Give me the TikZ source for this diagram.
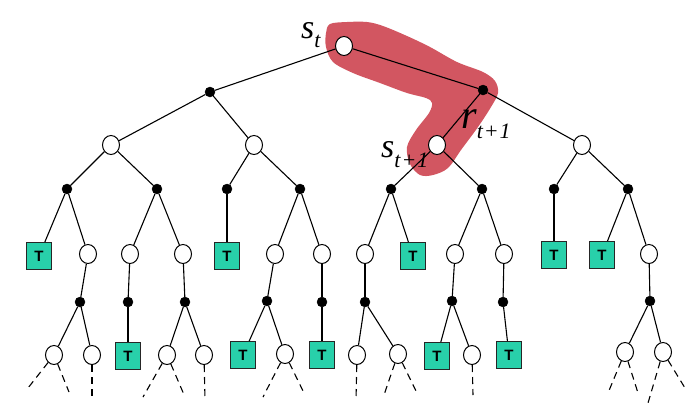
\documentclass[tikz,border=0pt]{standalone}
\usepackage{fontspec}
\setmainfont{Liberation Serif}
\newfontfamily\tfont{Liberation Sans}
\usetikzlibrary{shapes.geometric}
\definecolor{blobred}{RGB}{210,86,97}
\definecolor{termgreen}{RGB}{40,208,170}
\tikzset{
  st/.style={ellipse,draw=black,fill=white,line width=1pt,minimum width=17pt,minimum height=19pt,inner sep=0pt},
  act/.style={circle,fill=black,draw=black,minimum size=10pt,inner sep=0pt},
  term/.style={rectangle,draw=black!85,fill=termgreen,line width=0.9pt,minimum width=25pt,minimum height=27pt,inner sep=0pt,font=\tfont\bfseries\fontsize{15}{15}\selectfont},
  edge/.style={line width=1.1pt},
  cont/.style={line width=1.1pt,dash pattern=on 7pt off 5pt},
  lab/.style={anchor=base west,inner sep=0pt},
}
\newcommand{\mainsz}{\fontsize{34}{34}\selectfont\itshape}
\newcommand{\subsz}{\fontsize{22}{22}\selectfont}
\begin{document}
\begin{tikzpicture}[x=1pt,y=-1pt]
\useasboundingbox (0,0) rectangle (700,408);
% highlight blob
\fill[blobred] plot[smooth cycle,tension=0.55] coordinates {
 (330,24) (347,22) (367,22) (383,26) (407,36) (430,47) (457,62) (483,72)
 (495,81) (498,93) (491,107) (478,127) (461,150) (448,168) (433,175)
 (420,175) (410,164) (407,147) (416,130) (429,113) (432,103) (426,98)
 (407,93) (380,83) (353,73) (333,62) (326,47) (326,33)};
% level 0,1,2
\node[st] (r) at (344,46) {};
\node[act] (a1) at (210,92) {};
\node[act] (a2) at (483,90) {};
\node[st] (s1) at (111,145) {};
\node[st] (s2) at (254,145) {};
\node[st] (s3) at (437,145) {};
\node[st] (s4) at (582,145) {};
% level 3 actions
\node[act] (b1) at (67,189) {};
\node[act] (b2) at (157,189) {};
\node[act] (b3) at (227,189) {};
\node[act] (b4) at (300,189) {};
\node[act] (b5) at (391,189) {};
\node[act] (b6) at (482,189) {};
\node[act] (b7) at (554,189) {};
\node[act] (b8) at (628,189) {};
% level 3 states
\node[term] (T1) at (39,256) {T};
\node[st] (w1) at (88,254) {};
\node[st] (w2) at (130,254) {};
\node[st] (w3) at (183,254) {};
\node[term] (T2) at (227,256) {T};
\node[st] (w4) at (275,254) {};
\node[st] (w5) at (322,254) {};
\node[st] (w6) at (365,254) {};
\node[term] (T3) at (413,256) {T};
\node[st] (w7) at (455,254) {};
\node[st] (w8) at (504,254) {};
\node[term] (T4) at (554,255) {T};
\node[term] (T5) at (602,255) {T};
\node[st] (w9) at (649,254) {};
% level 4 actions
\node[act] (c1) at (80,302) {};
\node[act] (c2) at (128,302) {};
\node[act] (c3) at (185,302) {};
\node[act] (c4) at (267,301) {};
\node[act] (c5) at (322,302) {};
\node[act] (c6) at (365,302) {};
\node[act] (c7) at (452,301) {};
\node[act] (c8) at (503,302) {};
\node[act] (c9) at (650,301) {};
% level 5 states
\node[st] (x1) at (54,355) {};
\node[st] (x2) at (92,355) {};
\node[term] (T6) at (128,356) {T};
\node[st] (x3) at (167,355) {};
\node[st] (x4) at (204,355) {};
\node[term] (T7) at (243,355) {T};
\node[st] (x5) at (285,354) {};
\node[term] (T8) at (322,355) {T};
\node[st] (x6) at (357,355) {};
\node[st] (x7) at (398,354) {};
\node[term] (T9) at (437,356) {T};
\node[st] (x8) at (472,355) {};
\node[term] (T10) at (509,355) {T};
\node[st] (x9) at (625,352) {};
\node[st] (x10) at (663,352) {};
% dangling ends
\coordinate (d1) at (28,388); \coordinate (d2) at (69,392);
\coordinate (d3) at (92,397);
\coordinate (d4) at (143,397); \coordinate (d5) at (185,397);
\coordinate (d6) at (205,400);
\coordinate (d7) at (263,397); \coordinate (d8) at (305,395);
\coordinate (d9) at (356,400);
\coordinate (d10) at (384,395); \coordinate (d11) at (417,393);
\coordinate (d12) at (473,395);
\coordinate (d13) at (608,393); \coordinate (d14) at (638,393);
\coordinate (d15) at (648,403); \coordinate (d16) at (685,388);
% edges
\foreach \p/\c in {r/a1,r/a2,a1/s1,a1/s2,a2/s3,a2/s4,
  s1/b1,s1/b2,s2/b3,s2/b4,s3/b5,s3/b6,s4/b7,s4/b8,
  b1/T1,b1/w1,b2/w2,b2/w3,b3/T2,b4/w4,b4/w5,b5/w6,b5/T3,b6/w7,b6/w8,b7/T4,b8/T5,b8/w9,
  w1/c1,w2/c2,w3/c3,w4/c4,w5/c5,w6/c6,w7/c7,w8/c8,w9/c9,
  c1/x1,c1/x2,c2/T6,c3/x3,c3/x4,c4/T7,c4/x5,c5/T8,c6/x6,c6/x7,c7/T9,c7/x8,c8/T10,c9/x9,c9/x10}
  \draw[edge] (\p) -- (\c);
\foreach \p/\c in {x1/d1,x1/d2,x2/d3,x3/d4,x3/d5,x4/d6,x5/d7,x5/d8,x6/d9,x7/d10,x7/d11,
  x8/d12,x9/d13,x9/d14,x10/d15,x10/d16}
  \draw[cont] (\p) -- (\c);
% labels
\node[lab] (lst) at (301,38) {\mainsz s\raisebox{-9pt}{\subsz\itshape t}};
\node[lab] (lrt) at (461,128) {\fontsize{40}{40}\selectfont\itshape r\raisebox{-10pt}{\subsz\textit{t}\kern1pt+\kern1pt1}};
\node[lab] (lst1) at (381,157) {\mainsz s\raisebox{-10pt}{\subsz\textit{t}\kern1pt+\kern1pt1}};
\end{tikzpicture}
\end{document}
